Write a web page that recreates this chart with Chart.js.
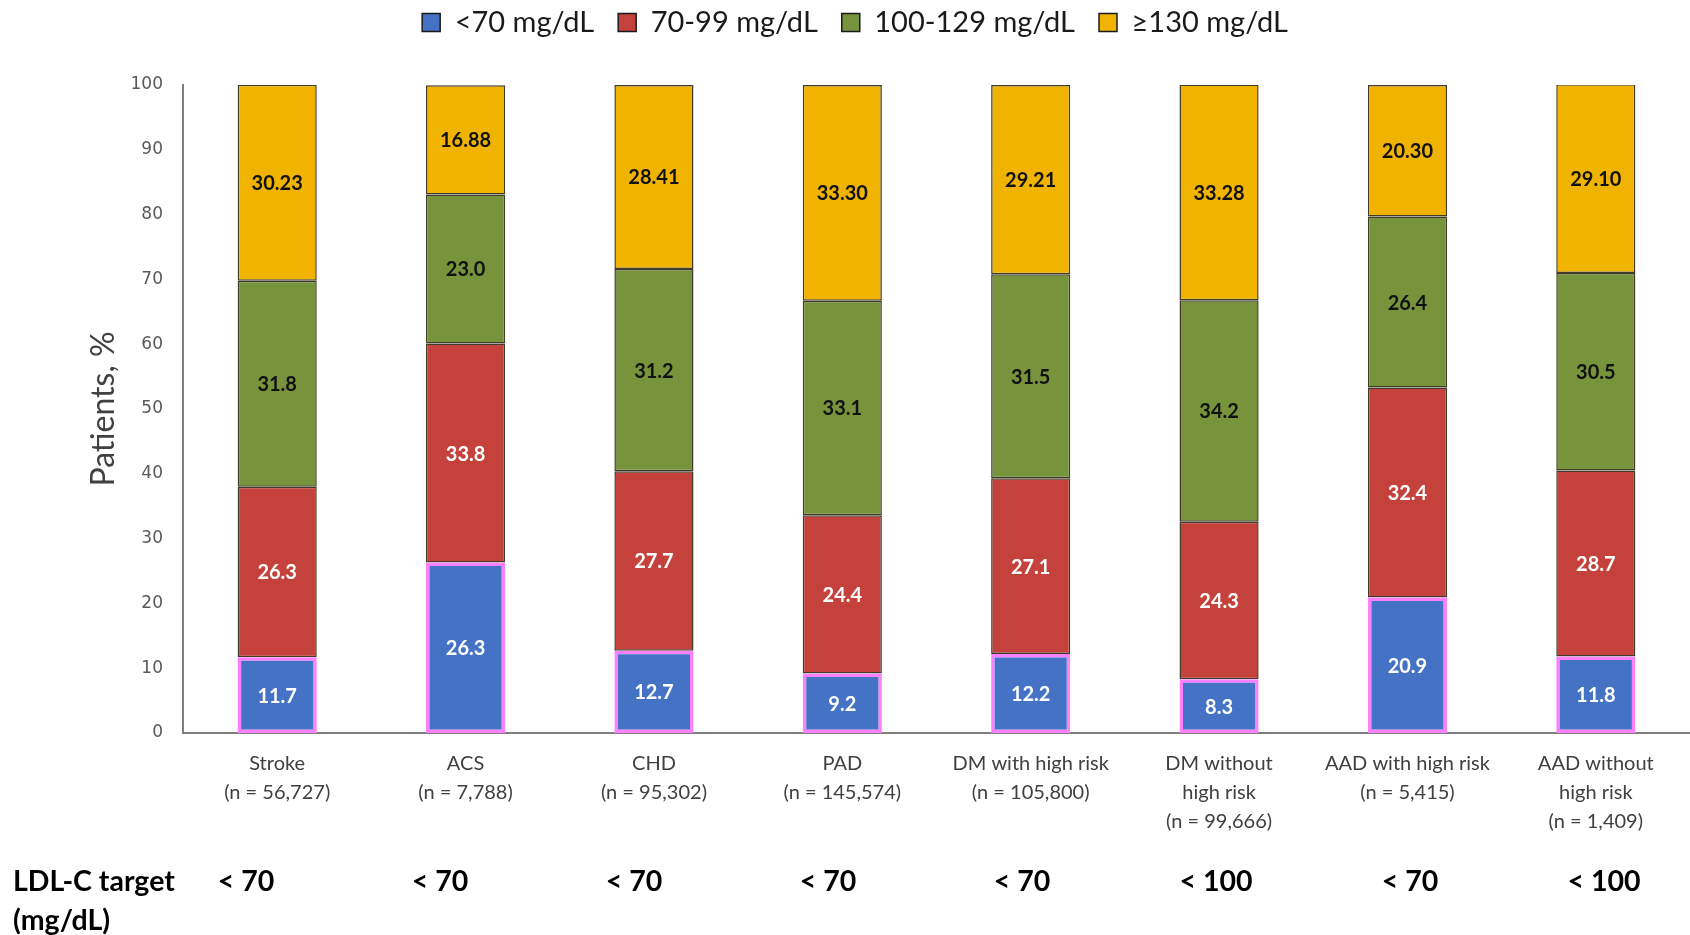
<!DOCTYPE html>
<html>
<head>
<meta charset="utf-8">
<title>LDL-C distribution by risk category</title>
<script src="https://cdn.jsdelivr.net/npm/chart.js@4.4.1/dist/chart.umd.min.js"></script>
<style>
  html, body { margin: 0; padding: 0; background: #ffffff; }
  #wrap { width: 1690px; height: 935px; position: relative; }
</style>
</head>
<body>
<div id="wrap"><canvas id="chart" width="1690" height="935"></canvas></div>
<script>
// Patient groups (x-axis, multi-line labels)
const categories = [
  ['Stroke', '(n = 56,727)'],
  ['ACS', '(n = 7,788)'],
  ['CHD', '(n = 95,302)'],
  ['PAD', '(n = 145,574)'],
  ['DM with high risk', '(n = 105,800)'],
  ['DM without', 'high risk', '(n = 99,666)'],
  ['AAD with high risk', '(n = 5,415)'],
  ['AAD without', 'high risk', '(n = 1,409)']
];

// LDL-C target for each group (mg/dL)
const ldlTargets = ['< 70', '< 70', '< 70', '< 70', '< 70', '< 100', '< 70', '< 100'];

// Share of patients (%) in each LDL-C band
const below70      = [11.7, 26.3, 12.7, 9.2, 12.2, 8.3, 20.9, 11.8];
const from70to99   = [26.3, 33.8, 27.7, 24.4, 27.1, 24.3, 32.4, 28.7];
const from100to129 = [31.8, 23.0, 31.2, 33.1, 31.5, 34.2, 26.4, 30.5];
const atLeast130   = [30.23, 16.88, 28.41, 33.30, 29.21, 33.28, 20.30, 29.10];

const seriesNames = ['<70 mg/dL', '70-99 mg/dL', '100-129 mg/dL', '\u2265130 mg/dL'];
const yTicks = [0, 10, 20, 30, 40, 50, 60, 70, 80, 90, 100];

const FILL = ['#4472C4', '#C4413C', '#77933C', '#F0B400'];
const EDGE = 'rgba(45, 40, 20, 0.9)';
const TARGET_EDGE = '#FF80FF';
const LABEL_COLORS = ['#ffffff', '#ffffff', '#111111', '#111111'];
const DECIMALS = [1, 1, 1, 2];

// Writes each segment's value in the middle of its bar piece
const segmentLabels = {
  id: 'segmentLabels',
  afterDatasetsDraw(chart) {
    const ctx = chart.ctx;
    ctx.save();
    ctx.font = 'bold 20px Lato';
    ctx.textAlign = 'center';
    ctx.textBaseline = 'middle';
    chart.data.datasets.forEach((ds, di) => {
      const meta = chart.getDatasetMeta(di);
      meta.data.forEach((el, i) => {
        const p = el.getProps(['x', 'y', 'base'], true);
        ctx.fillStyle = LABEL_COLORS[di];
        ctx.fillText(ds.data[i].toFixed(DECIMALS[di]), p.x, (p.y + p.base) / 2 + 1);
      });
    });
    ctx.restore();
  }
};

// Pulls the legend row up close to the top edge of the canvas
const legendPlacement = {
  id: 'legendPlacement',
  afterLayout(chart) {
    const lg = chart.legend;
    if (!lg) return;
    const dy = 38, dx = 10;
    lg.top -= dy; lg.bottom -= dy;
    lg.left += dx; lg.right += dx;
  }
};

// Table row under the axis: LDL-C target per group
const targetRow = {
  id: 'targetRow',
  afterDraw(chart) {
    const ctx = chart.ctx;
    ctx.save();
    ctx.font = 'bold 28.5px Lato';
    ctx.fillStyle = '#000000';
    ctx.textBaseline = 'middle';
    ctx.textAlign = 'left';
    ctx.fillText('LDL-C target', 13, 882);
    ctx.fillText('(mg/dL)', 13, 921);
    ctx.textAlign = 'center';
    const firstX = 246, step = 194;
    ldlTargets.forEach((t, i) => ctx.fillText(t, firstX + i * step, 882));
    ctx.restore();
  }
};

const makeSet = (label, data, i) => ({
  label,
  data,
  backgroundColor: FILL[i],
  borderColor: i === 0 ? TARGET_EDGE : EDGE,
  borderWidth: i === 0 ? 3.5 : 1.5,
  borderSkipped: false,
  barPercentage: 0.42,
  categoryPercentage: 1.0
});

new Chart(document.getElementById('chart'), {
  type: 'bar',
  data: {
    labels: categories,
    datasets: [
      makeSet(seriesNames[0], below70, 0),
      makeSet(seriesNames[1], from70to99, 1),
      makeSet(seriesNames[2], from100to129, 2),
      makeSet(seriesNames[3], atLeast130, 3)
    ]
  },
  plugins: [segmentLabels, legendPlacement, targetRow],
  options: {
    responsive: false,
    animation: false,
    layout: { padding: { top: 22, right: 0, bottom: 0, left: 0 } },
    plugins: {
      tooltip: { enabled: false },
      legend: {
        position: 'top',
        align: 'center',
        labels: {
          font: { family: 'Lato', size: 29 },
          color: '#1a1a1a',
          boxWidth: 18,
          boxHeight: 18,
          padding: 24,
          generateLabels(chart) {
            const items = Chart.defaults.plugins.legend.labels.generateLabels(chart);
            items.forEach(it => { it.strokeStyle = '#1a1a1a'; it.lineWidth = 1.5; });
            return items;
          }
        }
      }
    },
    scales: {
      x: {
        stacked: true,
        offset: true,
        grid: { display: false, drawTicks: false },
        border: { display: true, color: '#7f7f7f', width: 2 },
        ticks: {
          color: '#404040',
          font: { family: 'Lato', size: 20, lineHeight: 1.45 },
          padding: 16,
          maxRotation: 0,
          autoSkip: false
        },
        afterFit(scale) { scale.height = 202; }
      },
      y: {
        stacked: true,
        min: 0,
        max: 100,
        grid: { display: false, drawTicks: false },
        border: { display: true, color: '#7f7f7f', width: 2 },
        afterBuildTicks(scale) { scale.ticks = yTicks.map(v => ({ value: v })); },
        ticks: {
          color: '#595959',
          font: { family: 'DejaVu Sans', size: 17 },
          padding: 20
        },
        title: {
          display: true,
          text: 'Patients, %',
          color: '#404040',
          font: { family: 'Lato', size: 32 },
          padding: { top: 84, bottom: 0 }
        },
        afterFit(scale) { scale.width = 183; }
      }
    }
  }
});
</script>
</body>
</html>
